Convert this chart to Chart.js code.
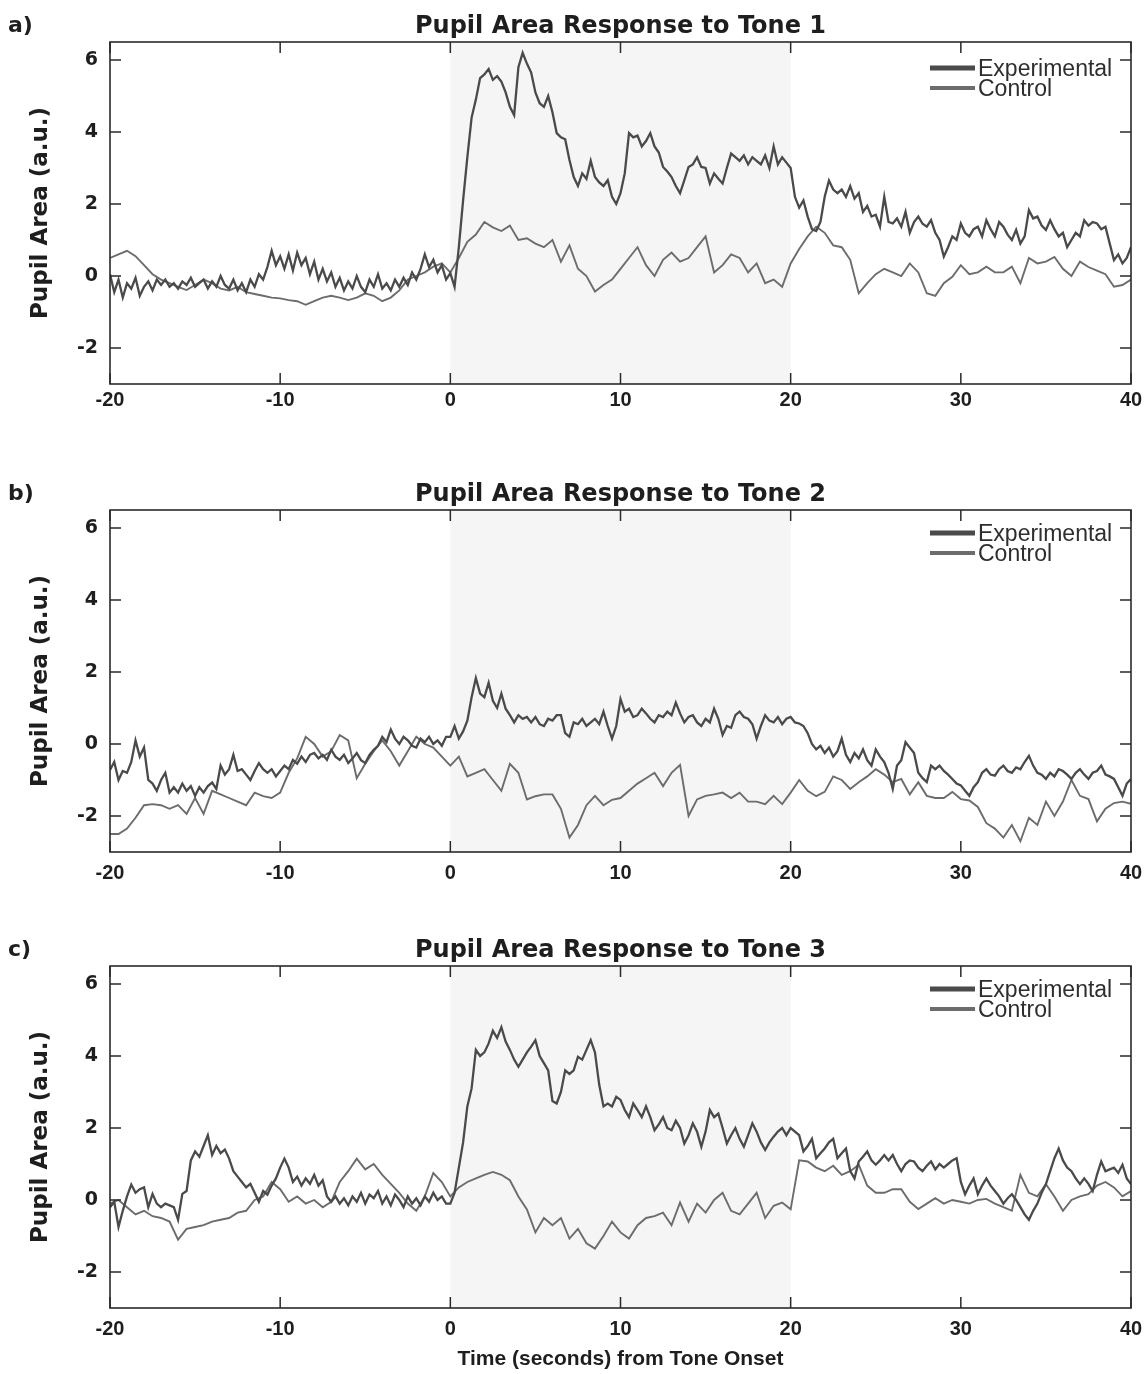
<!DOCTYPE html>
<html><head><meta charset="utf-8">
<script src="https://cdn.jsdelivr.net/npm/chart.js@4.4.1/dist/chart.umd.min.js"></script>
<style>
html,body{margin:0;padding:0;background:#fff;}
body{width:1146px;height:1374px;position:relative;overflow:hidden;}
canvas{position:absolute;left:0;}
</style></head><body>
<canvas id="pA" width="1146" height="456" style="top:0px;width:1146px;height:456px"></canvas>
<canvas id="pB" width="1146" height="456" style="top:468px;width:1146px;height:456px"></canvas>
<canvas id="pC" width="1146" height="450" style="top:924px;width:1146px;height:450px"></canvas>
<script>
// ---------- data ----------
const timeStart = -20;          // s
const expStep = 0.25;           // s between Experimental samples
const ctrlStep = 0.5;           // s between Control samples
const toneWindow = [0, 20];     // tone on interval (s)
const xTicks = [-20, -10, 0, 10, 20, 30, 40];
const yTicks = [-2, 0, 2, 4, 6];
const seriesNames = ['Experimental', 'Control'];
const panelTitles = ['Pupil Area Response to Tone 1', 'Pupil Area Response to Tone 2', 'Pupil Area Response to Tone 3'];
const panelLetters = ['a)', 'b)', 'c)'];

const tone1Experimental = [
/*-20*/ 0.05,-0.45,-0.1,-0.6,
/*-19*/ -0.2,-0.35,-0.05,-0.55,
/*-18*/ -0.3,-0.15,-0.4,-0.1,
/*-17*/ -0.25,-0.1,-0.3,-0.2,
/*-16*/ -0.35,-0.15,-0.25,-0.05,
/*-15*/ -0.3,-0.2,-0.1,-0.35,
/*-14*/ -0.15,-0.3,0.0,-0.25,
/*-13*/ -0.35,-0.1,-0.4,-0.2,
/*-12*/ -0.45,-0.1,-0.3,0.05,
/*-11*/ -0.1,0.25,0.7,0.3,
/*-10*/ 0.55,0.2,0.6,0.15,
/*-9*/ 0.65,0.3,0.5,0.05,
/*-8*/ 0.4,-0.1,0.2,-0.15,
/*-7*/ 0.1,-0.3,-0.05,-0.4,
/*-6*/ -0.15,-0.35,0.0,-0.3,
/*-5*/ -0.45,-0.1,-0.3,0.05,
/*-4*/ -0.35,-0.2,-0.4,-0.1,
/*-3*/ -0.3,-0.05,-0.25,0.1,
/*-2*/ -0.1,0.2,0.6,0.25,
/*-1*/ 0.45,0.1,0.3,-0.1,
/*0*/ 0.08,-0.3,0.8,2.1,
/*1*/ 3.3,4.4,4.9,5.5,
/*2*/ 5.6,5.75,5.45,5.55,
/*3*/ 5.4,5.1,4.7,4.47,
/*4*/ 5.8,6.2,5.9,5.65,
/*5*/ 5.1,4.8,4.7,5.0,
/*6*/ 4.55,3.97,3.85,3.8,
/*7*/ 3.22,2.75,2.5,2.85,
/*8*/ 2.7,3.2,2.75,2.6,
/*9*/ 2.5,2.66,2.2,2.0,
/*10*/ 2.3,2.85,3.97,3.85,
/*11*/ 3.9,3.6,3.75,3.97,
/*12*/ 3.6,3.43,3.03,2.9,
/*13*/ 2.75,2.5,2.3,2.66,
/*14*/ 3.03,3.1,3.3,3.03,
/*15*/ 3.0,2.57,2.85,2.7,
/*16*/ 2.57,3.0,3.4,3.3,
/*17*/ 3.2,3.35,3.1,3.3,
/*18*/ 3.2,3.1,3.35,3.0,
/*19*/ 3.6,3.1,3.3,3.15,
/*20*/ 3.0,2.2,1.9,2.1,
/*21*/ 1.65,1.3,1.25,1.5,
/*22*/ 2.2,2.65,2.4,2.3,
/*23*/ 2.4,2.2,2.5,2.15,
/*24*/ 2.3,1.78,1.95,1.65,
/*25*/ 1.7,1.37,2.2,1.5,
/*26*/ 1.46,1.6,1.37,1.78,
/*27*/ 1.2,1.5,1.65,1.45,
/*28*/ 1.37,1.55,1.2,1.0,
/*29*/ 0.54,0.8,1.1,1.0,
/*30*/ 1.46,1.2,1.1,1.3,
/*31*/ 1.37,1.1,1.55,1.3,
/*32*/ 1.1,1.5,1.37,1.15,
/*33*/ 1.0,1.28,0.9,1.1,
/*34*/ 1.83,1.6,1.65,1.4,
/*35*/ 1.28,1.55,1.3,1.1,
/*36*/ 1.2,0.8,1.0,1.2,
/*37*/ 1.1,1.55,1.4,1.5,
/*38*/ 1.46,1.3,1.37,0.9,
/*39*/ 0.44,0.6,0.35,0.5,
/*40*/ 0.8
];
const tone1Control = [
/*-20*/ 0.5,0.6, /*-19*/ 0.7,0.55, /*-18*/ 0.3,0.05, /*-17*/ -0.1,-0.2,
/*-16*/ -0.3,-0.39, /*-15*/ -0.25,-0.1, /*-14*/ -0.2,-0.35, /*-13*/ -0.4,-0.3,
/*-12*/ -0.45,-0.5, /*-11*/ -0.55,-0.6, /*-10*/ -0.62,-0.67, /*-9*/ -0.7,-0.8,
/*-8*/ -0.7,-0.6, /*-7*/ -0.55,-0.6, /*-6*/ -0.67,-0.6, /*-5*/ -0.48,-0.55,
/*-4*/ -0.7,-0.6, /*-3*/ -0.4,-0.1, /*-2*/ 0.0,0.1, /*-1*/ 0.26,0.35,
/*0*/ 0.1,0.5, /*1*/ 0.95,1.15, /*2*/ 1.5,1.35, /*3*/ 1.25,1.4,
/*4*/ 1.0,1.05, /*5*/ 0.9,0.8, /*6*/ 1.0,0.4, /*7*/ 0.85,0.2,
/*8*/ 0.0,-0.43, /*9*/ -0.25,-0.1, /*10*/ 0.2,0.5, /*11*/ 0.8,0.3,
/*12*/ 0.0,0.45, /*13*/ 0.65,0.4, /*14*/ 0.5,0.8, /*15*/ 1.1,0.1,
/*16*/ 0.3,0.6, /*17*/ 0.5,0.1, /*18*/ 0.35,-0.2, /*19*/ -0.1,-0.3,
/*20*/ 0.35,0.75, /*21*/ 1.1,1.37, /*22*/ 1.2,0.85, /*23*/ 0.8,0.45,
/*24*/ -0.48,-0.2, /*25*/ 0.05,0.2, /*26*/ 0.1,0.0, /*27*/ 0.35,0.1,
/*28*/ -0.48,-0.55, /*29*/ -0.2,-0.02, /*30*/ 0.3,0.05, /*31*/ 0.1,0.26,
/*32*/ 0.1,0.1, /*33*/ 0.26,-0.2, /*34*/ 0.5,0.35, /*35*/ 0.4,0.53,
/*36*/ 0.2,0.0, /*37*/ 0.4,0.25, /*38*/ 0.15,0.05, /*39*/ -0.3,-0.25,
/*40*/ -0.1
];
const tone2Experimental = [
/*-20*/ -0.72,-0.5,-1.0,-0.75,
/*-19*/ -0.8,-0.5,0.1,-0.35,
/*-18*/ -0.1,-1.0,-1.1,-1.3,
/*-17*/ -1.0,-0.8,-1.35,-1.2,
/*-16*/ -1.35,-1.1,-1.3,-1.17,
/*-15*/ -1.44,-1.2,-1.35,-1.17,
/*-14*/ -1.07,-1.25,-0.6,-0.85,
/*-13*/ -0.7,-0.3,-0.75,-0.7,
/*-12*/ -0.85,-1.0,-0.75,-0.53,
/*-11*/ -0.7,-0.8,-0.7,-0.9,
/*-10*/ -0.75,-0.6,-0.7,-0.44,
/*-9*/ -0.55,-0.35,-0.5,-0.3,
/*-8*/ -0.25,-0.4,-0.3,-0.44,
/*-7*/ -0.16,-0.35,-0.44,-0.3,
/*-6*/ -0.53,-0.4,-0.25,-0.45,
/*-5*/ -0.53,-0.3,-0.16,-0.05,
/*-4*/ 0.2,0.05,0.4,0.15,
/*-3*/ 0.0,0.2,0.1,-0.05,
/*-2*/ -0.1,0.15,0.05,0.2,
/*-1*/ 0.0,0.1,-0.05,0.2,
/*0*/ 0.2,0.5,0.15,0.35,
/*1*/ 0.65,1.3,1.83,1.4,
/*2*/ 1.3,1.7,1.2,1.0,
/*3*/ 1.4,0.98,0.8,0.6,
/*4*/ 0.8,0.7,0.75,0.6,
/*5*/ 0.75,0.55,0.5,0.7,
/*6*/ 0.65,0.8,0.8,0.3,
/*7*/ 0.2,0.6,0.55,0.7,
/*8*/ 0.5,0.6,0.7,0.55,
/*9*/ 0.9,0.5,0.15,0.5,
/*10*/ 1.25,0.9,0.98,0.75,
/*11*/ 0.8,0.98,0.85,0.7,
/*12*/ 0.6,0.8,0.75,0.9,
/*13*/ 0.8,1.15,0.85,0.6,
/*14*/ 0.75,0.8,0.6,0.5,
/*15*/ 0.7,0.6,0.98,0.7,
/*16*/ 0.25,0.5,0.45,0.8,
/*17*/ 0.9,0.75,0.7,0.55,
/*18*/ 0.15,0.5,0.8,0.65,
/*19*/ 0.6,0.75,0.55,0.7,
/*20*/ 0.75,0.6,0.57,0.5,
/*21*/ 0.3,0.0,-0.15,-0.05,
/*22*/ -0.25,-0.1,-0.35,-0.2,
/*23*/ 0.15,-0.3,-0.5,-0.25,
/*24*/ -0.4,-0.15,-0.45,-0.6,
/*25*/ -0.15,-0.35,-0.5,-0.8,
/*26*/ -1.25,-0.6,-0.45,0.05,
/*27*/ -0.1,-0.25,-0.8,-0.95,
/*28*/ -1.06,-0.6,-0.7,-0.6,
/*29*/ -0.75,-0.85,-0.97,-1.1,
/*30*/ -1.15,-1.3,-1.44,-1.2,
/*31*/ -1.06,-0.8,-0.7,-0.85,
/*32*/ -0.88,-0.7,-0.6,-0.75,
/*33*/ -0.8,-0.65,-0.7,-0.5,
/*34*/ -0.33,-0.6,-0.8,-0.85,
/*35*/ -0.97,-0.8,-0.9,-0.7,
/*36*/ -0.75,-0.85,-0.97,-0.8,
/*37*/ -0.7,-0.85,-0.97,-0.8,
/*38*/ -0.75,-0.6,-0.85,-0.9,
/*39*/ -0.97,-1.2,-1.44,-1.1,
/*40*/ -0.97
];
const tone2Control = [
/*-20*/ -2.5,-2.5, /*-19*/ -2.35,-2.05, /*-18*/ -1.7,-1.67, /*-17*/ -1.7,-1.8,
/*-16*/ -1.7,-1.94, /*-15*/ -1.5,-1.94, /*-14*/ -1.3,-1.4, /*-13*/ -1.5,-1.6,
/*-12*/ -1.7,-1.35, /*-11*/ -1.45,-1.5, /*-10*/ -1.35,-0.8, /*-9*/ -0.4,0.2,
/*-8*/ 0.0,-0.35, /*-7*/ -0.2,0.25, /*-6*/ 0.1,-0.95, /*-5*/ -0.55,-0.2,
/*-4*/ 0.1,-0.2, /*-3*/ -0.6,-0.2, /*-2*/ 0.2,0.0, /*-1*/ -0.1,-0.35,
/*0*/ -0.6,-0.35, /*1*/ -0.9,-0.8, /*2*/ -0.7,-1.0, /*3*/ -1.3,-0.55,
/*4*/ -0.8,-1.54, /*5*/ -1.45,-1.4, /*6*/ -1.4,-1.8, /*7*/ -2.6,-2.25,
/*8*/ -1.7,-1.44, /*9*/ -1.7,-1.55, /*10*/ -1.5,-1.3, /*11*/ -1.1,-0.95,
/*12*/ -0.8,-1.17, /*13*/ -0.8,-0.58, /*14*/ -2.0,-1.54, /*15*/ -1.44,-1.4,
/*16*/ -1.35,-1.5, /*17*/ -1.35,-1.6, /*18*/ -1.6,-1.67, /*19*/ -1.44,-1.67,
/*20*/ -1.35,-1.0, /*21*/ -1.3,-1.45, /*22*/ -1.33,-0.9, /*23*/ -1.0,-1.25,
/*24*/ -1.06,-0.9, /*25*/ -0.7,-0.85, /*26*/ -1.06,-0.97, /*27*/ -1.4,-1.06,
/*28*/ -1.44,-1.5, /*29*/ -1.5,-1.33, /*30*/ -1.53,-1.57, /*31*/ -1.75,-2.2,
/*32*/ -2.35,-2.6, /*33*/ -2.25,-2.7, /*34*/ -2.05,-2.25, /*35*/ -1.6,-2.0,
/*36*/ -1.6,-1.0, /*37*/ -1.44,-1.53, /*38*/ -2.15,-1.8, /*39*/ -1.64,-1.6,
/*40*/ -1.66
];
const tone3Experimental = [
/*-20*/ -0.2,-0.05,-0.75,-0.3,
/*-19*/ 0.1,0.43,0.2,0.3,
/*-18*/ 0.35,-0.2,0.17,-0.1,
/*-17*/ -0.2,-0.1,-0.15,-0.2,
/*-16*/ -0.55,0.17,0.25,1.1,
/*-15*/ 1.35,1.2,1.5,1.8,
/*-14*/ 1.25,1.5,1.3,1.4,
/*-13*/ 1.15,0.8,0.65,0.5,
/*-12*/ 0.35,0.45,0.2,-0.05,
/*-11*/ 0.25,0.15,0.4,0.6,
/*-10*/ 0.9,1.15,0.9,0.5,
/*-9*/ 0.65,0.4,0.6,0.45,
/*-8*/ 0.7,0.4,0.55,0.1,
/*-7*/ -0.05,0.1,-0.1,0.05,
/*-6*/ -0.15,0.1,-0.05,0.2,
/*-5*/ -0.1,0.15,0.05,0.25,
/*-4*/ -0.1,0.1,-0.15,0.15,
/*-3*/ 0.0,-0.2,0.1,-0.1,
/*-2*/ 0.05,-0.15,0.1,-0.05,
/*-1*/ 0.2,0.0,0.1,-0.1,
/*0*/ -0.1,0.2,0.9,1.6,
/*1*/ 2.6,3.1,4.17,4.0,
/*2*/ 4.1,4.35,4.7,4.5,
/*3*/ 4.8,4.4,4.17,3.9,
/*4*/ 3.7,3.9,4.1,4.26,
/*5*/ 4.44,4.0,3.8,3.6,
/*6*/ 2.75,2.68,3.0,3.6,
/*7*/ 3.5,3.6,3.98,3.9,
/*8*/ 4.17,4.44,4.1,3.2,
/*9*/ 2.6,2.68,2.6,2.87,
/*10*/ 2.78,2.5,2.3,2.68,
/*11*/ 2.5,2.3,2.6,2.3,
/*12*/ 1.94,2.1,2.3,2.0,
/*13*/ 1.94,2.2,2.0,1.57,
/*14*/ 1.8,2.13,1.9,1.48,
/*15*/ 1.9,2.5,2.3,2.4,
/*16*/ 2.0,1.57,1.8,2.0,
/*17*/ 1.7,1.48,1.8,2.13,
/*18*/ 1.9,1.6,1.39,1.6,
/*19*/ 1.76,1.9,2.0,1.8,
/*20*/ 2.0,1.9,1.8,1.35,
/*21*/ 1.5,1.7,1.16,1.3,
/*22*/ 1.43,1.6,1.7,1.16,
/*23*/ 1.3,1.43,0.8,0.6,
/*24*/ 1.07,1.2,1.35,1.1,
/*25*/ 0.98,1.1,1.25,1.1,
/*26*/ 1.25,1.0,0.8,1.0,
/*27*/ 1.1,1.07,0.9,0.8,
/*28*/ 0.95,1.07,0.85,1.0,
/*29*/ 0.9,1.0,1.1,1.16,
/*30*/ 0.5,0.16,0.4,0.6,
/*31*/ 0.16,0.4,0.6,0.4,
/*32*/ 0.25,0.1,-0.1,0.05,
/*33*/ 0.16,0.0,-0.2,-0.4,
/*34*/ -0.55,-0.3,-0.1,0.2,
/*35*/ 0.44,0.8,1.16,1.43,
/*36*/ 1.1,0.9,0.8,0.6,
/*37*/ 0.44,0.6,0.45,0.25,
/*38*/ 0.7,1.07,0.8,0.85,
/*39*/ 0.9,0.75,0.98,0.6,
/*40*/ 0.44
];
const tone3Control = [
/*-20*/ -0.1,0.0, /*-19*/ -0.2,-0.4, /*-18*/ -0.3,-0.45, /*-17*/ -0.5,-0.6,
/*-16*/ -1.1,-0.8, /*-15*/ -0.75,-0.7, /*-14*/ -0.6,-0.55, /*-13*/ -0.5,-0.35,
/*-12*/ -0.3,0.0, /*-11*/ 0.1,0.5, /*-10*/ 0.3,-0.05, /*-9*/ 0.1,-0.1,
/*-8*/ 0.0,-0.2, /*-7*/ -0.05,0.5, /*-6*/ 0.8,1.15, /*-5*/ 0.85,1.0,
/*-4*/ 0.7,0.45, /*-3*/ 0.2,-0.1, /*-2*/ -0.3,0.1, /*-1*/ 0.75,0.5,
/*0*/ 0.1,0.35, /*1*/ 0.5,0.6, /*2*/ 0.7,0.78, /*3*/ 0.7,0.55,
/*4*/ 0.1,-0.26, /*5*/ -0.9,-0.5, /*6*/ -0.7,-0.5, /*7*/ -1.07,-0.8,
/*8*/ -1.2,-1.35, /*9*/ -1.0,-0.6, /*10*/ -0.9,-1.07, /*11*/ -0.7,-0.5,
/*12*/ -0.45,-0.35, /*13*/ -0.7,-0.07, /*14*/ -0.6,-0.1, /*15*/ -0.35,0.0,
/*16*/ 0.2,-0.3, /*17*/ -0.4,-0.1, /*18*/ 0.2,-0.5, /*19*/ -0.16,-0.07,
/*20*/ -0.26,1.1, /*21*/ 1.07,0.9, /*22*/ 0.8,0.95, /*23*/ 0.7,0.8,
/*24*/ 0.98,0.4, /*25*/ 0.2,0.2, /*26*/ 0.3,0.3, /*27*/ -0.05,-0.25,
/*28*/ -0.1,0.05, /*29*/ -0.1,0.0, /*30*/ -0.05,-0.1, /*31*/ 0.0,0.03,
/*32*/ -0.1,-0.2, /*33*/ -0.3,0.7, /*34*/ 0.2,0.1, /*35*/ 0.44,0.1,
/*36*/ -0.3,0.0, /*37*/ 0.1,0.16, /*38*/ 0.4,0.5, /*39*/ 0.35,0.1,
/*40*/ 0.25
];

// ---------- rendering ----------
const expColor = '#4a4a4a';
const ctrlColor = '#6c6c6c';
const inkColor = '#1e1e1e';

function toPoints(values, step) {
  return values.map((v, i) => ({ x: timeStart + i * step, y: v }));
}

const panelDecor = {
  id: 'panelDecor',
  beforeDatasetsDraw(chart) {
    const { ctx, chartArea: a, scales: { x } } = chart;
    const x0 = x.getPixelForValue(toneWindow[0]);
    const x1 = x.getPixelForValue(toneWindow[1]);
    ctx.save();
    ctx.fillStyle = '#f5f5f5';
    ctx.fillRect(x0, a.top, x1 - x0, a.bottom - a.top);
    ctx.restore();
  },
  afterDraw(chart, args, opts) {
    const { ctx, chartArea: a, scales: { x, y } } = chart;
    ctx.save();
    // frame
    ctx.strokeStyle = '#2a2a2a';
    ctx.lineWidth = 1.6;
    ctx.strokeRect(a.left, a.top, a.right - a.left, a.bottom - a.top);
    // inward ticks on all sides
    const L = 11;
    ctx.lineWidth = 1.5;
    ctx.beginPath();
    xTicks.forEach(v => {
      const px = x.getPixelForValue(v);
      ctx.moveTo(px, a.bottom); ctx.lineTo(px, a.bottom - L);
      ctx.moveTo(px, a.top); ctx.lineTo(px, a.top + L);
    });
    yTicks.forEach(v => {
      const py = y.getPixelForValue(v);
      ctx.moveTo(a.left, py); ctx.lineTo(a.left + L, py);
      ctx.moveTo(a.right, py); ctx.lineTo(a.right - L, py);
    });
    ctx.stroke();
    // legend (inside, top-right)
    const lx1 = a.right - 156, lx0 = lx1 - 45;
    chart.data.datasets.forEach((ds, i) => {
      const ly = a.top + opts.legendTop + i * 20;
      ctx.strokeStyle = ds.borderColor;
      ctx.lineWidth = i === 0 ? 5 : 4;
      ctx.beginPath(); ctx.moveTo(lx0, ly); ctx.lineTo(lx1, ly); ctx.stroke();
      ctx.fillStyle = '#2e2e2e';
      ctx.font = '23px "Liberation Sans", Arial, sans-serif';
      ctx.textAlign = 'left';
      ctx.textBaseline = 'alphabetic';
      ctx.fillText(ds.label, lx1 + 3, ly + 8);
    });
    // title and panel letter
    ctx.fillStyle = inkColor;
    ctx.font = 'bold 24px "DejaVu Sans"';
    ctx.textAlign = 'center';
    ctx.textBaseline = 'alphabetic';
    ctx.fillText(opts.title, (a.left + a.right) / 2, a.top - 9);
    ctx.textAlign = 'left';
    ctx.font = 'bold 22px "DejaVu Sans"';
    ctx.fillText(opts.letter, 8, a.top - 10);
    ctx.restore();
  }
};

function makePanel(id, idx, expVals, ctrlVals, showXTitle, xLabelPad, legendTop) {
  const canvas = document.getElementById(id);
  const H = canvas.height;
  const plotTop = 42, plotBottom = 384;
  new Chart(canvas.getContext('2d'), {
    type: 'line',
    data: {
      datasets: [
        { label: seriesNames[0], data: toPoints(expVals, expStep), borderColor: expColor, borderWidth: 2.3, pointRadius: 0, tension: 0, fill: false },
        { label: seriesNames[1], data: toPoints(ctrlVals, ctrlStep), borderColor: ctrlColor, borderWidth: 1.9, pointRadius: 0, tension: 0, fill: false }
      ]
    },
    options: {
      responsive: false,
      animation: false,
      devicePixelRatio: 1,
      layout: { padding: { top: plotTop, right: 15, left: 0, bottom: 0 } },
      plugins: {
        legend: { display: false },
        tooltip: { enabled: false },
        panelDecor: { title: panelTitles[idx], letter: panelLetters[idx], legendTop: legendTop }
      },
      scales: {
        x: {
          type: 'linear', min: -20, max: 40,
          afterBuildTicks: s => { s.ticks = xTicks.map(v => ({ value: v })); },
          ticks: { color: inkColor, padding: xLabelPad, maxRotation: 0, font: { family: '"Liberation Sans", Arial, sans-serif', weight: 'bold', size: 20 } },
          grid: { display: false, drawTicks: false },
          border: { display: false },
          title: { display: showXTitle, text: 'Time (seconds) from Tone Onset', color: inkColor, padding: { top: 0, bottom: 2 }, font: { family: '"Liberation Sans", Arial, sans-serif', weight: 'bold', size: 21 } },
          afterFit: s => { s.height = H - plotBottom; s.paddingLeft = 0; s.paddingRight = 0; }
        },
        y: {
          type: 'linear', min: -3, max: 6.5,
          afterBuildTicks: s => { s.ticks = yTicks.map(v => ({ value: v })); },
          ticks: { color: inkColor, padding: 12, font: { family: '"DejaVu Sans", sans-serif', weight: 'bold', size: 19 } },
          grid: { display: false, drawTicks: false },
          border: { display: false },
          title: { display: true, text: 'Pupil Area (a.u.)', color: inkColor, padding: { top: 27, bottom: 0 }, font: { family: '"DejaVu Sans", sans-serif', weight: 'bold', size: 23 } },
          afterFit: s => { s.width = 110; }
        }
      }
    },
    plugins: [panelDecor]
  });
}

makePanel('pA', 0, tone1Experimental, tone1Control, false, 4, 26);
makePanel('pB', 1, tone2Experimental, tone2Control, false, 9, 23);
makePanel('pC', 2, tone3Experimental, tone3Control, true, 9, 23);
</script>
</body></html>
